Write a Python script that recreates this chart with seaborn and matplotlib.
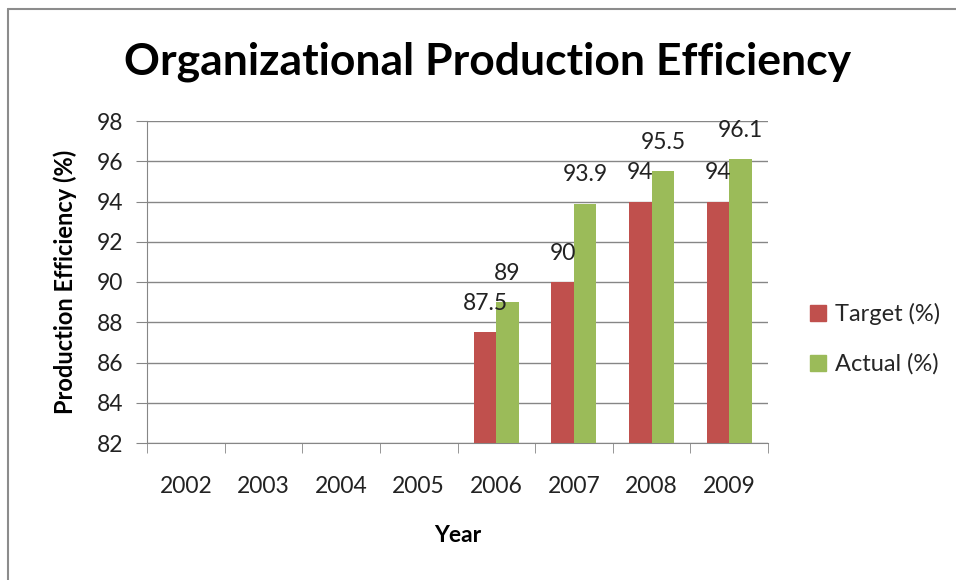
import pandas as pd
import seaborn as sns
import matplotlib.pyplot as plt
from matplotlib.lines import Line2D

# dados
anos = ['2002', '2003', '2004', '2005', '2006', '2007', '2008', '2009']
meta = [None, None, None, None, 87.5, 90, 94, 94]
real = [None, None, None, None, 89, 93.9, 95.5, 96.1]
series = ['Target (%)', 'Actual (%)']
cores = ['#C0504D', '#9BBB59']

tabela = pd.DataFrame({
    'Year': anos * 2,
    'valor': meta + real,
    'serie': [series[0]] * len(anos) + [series[1]] * len(anos),
})
tabela = tabela.dropna()  # anos sem dado ficam vazios no eixo (order=anos)
tabela['valor'] = tabela['valor'].astype(float)

sns.set_style('white')
plt.rcParams['font.family'] = ['Lato', 'DejaVu Sans']

fig = plt.figure(figsize=(9.56, 5.8), dpi=100)
ax = fig.add_axes([147 / 956, 1 - 443 / 580, (768 - 147) / 956, (443 - 121) / 580])

sns.barplot(data=tabela, x='Year', y='valor', hue='serie', order=anos,
            hue_order=series, palette=cores, width=0.58, saturation=1,
            errorbar=None, linewidth=0, ax=ax, zorder=3)

# rótulos em cima das barras
for cont in ax.containers:
    barras = [b for b in cont if b is not None]
    for b in barras:
        ax.annotate(f'{b.get_height():g}', (b.get_x() + b.get_width() / 2, b.get_height()),
                    xytext=(0, 13), textcoords='offset points',
                    ha='center', va='bottom', fontsize=16.5, color='#222222', zorder=4)

ax.set_ylim(82, 98)
ax.set_yticks(range(82, 99, 2))
ax.set_xlim(-0.5, 7.5)
ax.grid(axis='y', color='#868686', linewidth=1, zorder=0)
for s in ['top', 'right']:
    ax.spines[s].set_visible(False)
for s in ['left', 'bottom']:
    ax.spines[s].set_color('#868686')
ax.set_xticks([i - 0.5 for i in range(9)], minor=True)
ax.tick_params(axis='x', which='major', length=0, labelsize=16.5, pad=24, labelcolor='#222222')
ax.tick_params(axis='x', which='minor', length=7, color='#868686', direction='out', bottom=True)
ax.tick_params(axis='y', length=8, color='#868686', labelsize=16.5, left=True, pad=9, labelcolor='#222222')
ax.set_xlabel('Year', fontsize=16.5, fontweight='bold', labelpad=20, color='black')
ax.set_ylabel('Production Efficiency (%)', fontsize=17, fontweight='bold', labelpad=14, color='black')

if ax.legend_ is not None:
    ax.legend_.remove()
handles = [Line2D([], [], marker='s', linestyle='', color=c, markersize=11) for c in cores]
fig.legend(handles, series, loc='center left', bbox_to_anchor=(804 / 956, 1 - 339 / 580),
           frameon=False, fontsize=17, handletextpad=0.1, labelspacing=1.2,
           borderaxespad=0, borderpad=0, handlelength=1.2)

fig.text(488 / 956, 1 - 62 / 580, 'Organizational Production Efficiency',
         ha='center', va='center', fontsize=32, fontweight='bold', color='black')

# moldura do gráfico (só topo e esquerda aparecem)
fig.add_artist(Line2D([8 / 956, 1], [1 - 9 / 580] * 2, color='#8c8c8c', linewidth=1.5))
fig.add_artist(Line2D([8 / 956] * 2, [0, 1 - 9 / 580], color='#8c8c8c', linewidth=1.5))

fig.savefig('out.png', dpi=100)
